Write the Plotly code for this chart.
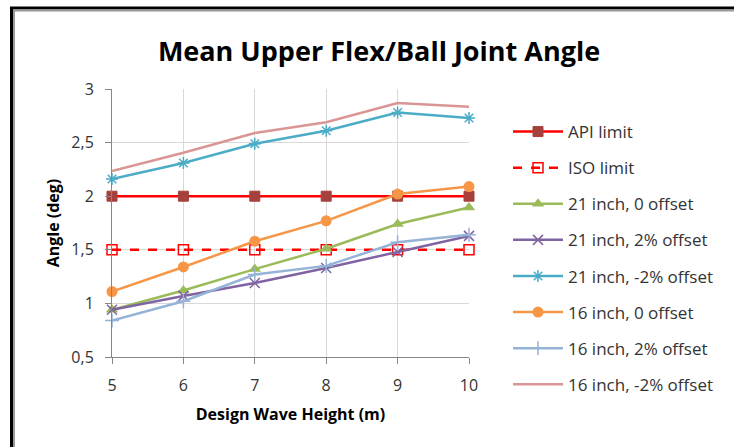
import plotly.graph_objects as go

x_vals = [5, 6, 7, 8, 9, 10]
api_limit = [2.0, 2.0, 2.0, 2.0, 2.0, 2.0]
iso_limit = [1.5, 1.5, 1.5, 1.5, 1.5, 1.5]
s21_0 = [0.94, 1.12, 1.32, 1.51, 1.74, 1.895]
s21_p2 = [0.94, 1.07, 1.19, 1.33, 1.48, 1.63]
s21_m2 = [2.16, 2.31, 2.49, 2.61, 2.78, 2.73]
s16_0 = [1.11, 1.34, 1.58, 1.77, 2.02, 2.09]
s16_p2 = [0.84, 1.02, 1.27, 1.35, 1.57, 1.64]
s16_m2 = [2.235, 2.405, 2.59, 2.69, 2.87, 2.835]
y_ticks = [0.5, 1, 1.5, 2, 2.5, 3]

W, H = 734, 447
L, R, T, B = 112, 265, 89, 90
PW, PH = W - L - R, H - T - B

def px(xp):
    return (xp - L) / PW

def py(yp):
    return (H - B - yp) / PH

FONT = "Open Sans"
fig = go.Figure()

series = [
    ("API limit", api_limit, dict(color="#FF0000", width=2.5), dict(symbol="square", size=10, color="#A5403D", line=dict(color="#A5403D", width=1))),
    ("ISO limit", iso_limit, dict(color="#FF0000", width=2.5, dash="dash"), dict(symbol="square-open", size=10, color="#FF0000", line=dict(color="#FF0000", width=1.5))),
    ("21 inch, 0 offset", s21_0, dict(color="#9BBB59", width=2.5), dict(symbol="triangle-up", size=11, color="#9BBB59")),
    ("21 inch, 2% offset", s21_p2, dict(color="#8064A2", width=2.5), dict(symbol="x-thin-open", size=10, color="#8064A2", line=dict(color="#8064A2", width=1.5))),
    ("21 inch, -2% offset", s21_m2, dict(color="#4BACC6", width=2.5), dict(symbol="asterisk-open", size=10, color="#4BACC6", line=dict(color="#4BACC6", width=1.5))),
    ("16 inch, 0 offset", s16_0, dict(color="#F79646", width=2.5), dict(symbol="circle", size=11, color="#F79646")),
    ("16 inch, 2% offset", s16_p2, dict(color="#95B3D7", width=2.5), dict(symbol="cross-thin-open", size=10, color="#95B3D7", line=dict(color="#95B3D7", width=1.5))),
    ("16 inch, -2% offset", s16_m2, dict(color="#D99694", width=2.5), None),
]

for i, (name, ys, ln, mk) in enumerate(series):
    fig.add_trace(go.Scatter(
        x=x_vals, y=ys, name=name,
        mode="lines+markers" if mk else "lines",
        line=ln, marker=mk if mk else None,
        cliponaxis=False, legendgroup=f"g{i}",
    ))

shapes = [
    dict(type="line", xref="paper", yref="paper", x0=px(11.5), x1=px(11.5), y0=py(7), y1=py(460), line=dict(color="black", width=3)),
    dict(type="line", xref="paper", yref="paper", x0=px(14), x1=px(14), y0=py(10), y1=py(460), line=dict(color="#9a9a9a", width=2)),
    dict(type="line", xref="paper", yref="paper", x0=px(10), x1=px(760), y0=py(8), y1=py(8), line=dict(color="black", width=3)),
    dict(type="line", xref="paper", yref="paper", x0=px(13), x1=px(760), y0=py(10.5), y1=py(10.5), line=dict(color="#9a9a9a", width=2)),
]

fig.update_layout(
    width=W, height=H,
    margin=dict(l=L, r=R, t=T, b=B, autoexpand=False),
    paper_bgcolor="white", plot_bgcolor="white",
    separators=",.",
    font=dict(family=FONT, size=16, color="#333333"),
    title=dict(text="<b>Mean Upper Flex/Ball Joint Angle</b>", x=379 / W, xref="container", xanchor="center",
               y=1 - 52 / H, yref="container", yanchor="middle",
               font=dict(family=FONT, size=27, color="black")),
    xaxis=dict(range=[5, 10], tickvals=x_vals, showgrid=True, gridcolor="#D9D9D9", gridwidth=1,
               showline=True, linecolor="#868686", linewidth=1, ticks="outside", ticklen=6, tickcolor="#868686",
               zeroline=False, tickfont=dict(size=16, color="#333333"), ticklabelstandoff=8,
               title=dict(text="<b>Design Wave Height (m)</b>", font=dict(size=16, color="black"), standoff=13)),
    yaxis=dict(range=[0.5, 3], tickvals=y_ticks, showgrid=True, gridcolor="#D9D9D9", gridwidth=1,
               showline=True, linecolor="#868686", linewidth=1, ticks="outside", ticklen=6, tickcolor="#868686",
               zeroline=False, tickfont=dict(size=16, color="#333333"), ticklabelstandoff=8,
               title=dict(text="<b>Angle (deg)</b>", font=dict(size=16, color="black"), standoff=7)),
    legend=dict(x=px(508), y=1 - 114 / H, yref="container", xanchor="left", yanchor="top", bgcolor="rgba(0,0,0,0)",
                font=dict(size=17, color="#333333"), tracegroupgap=11, itemwidth=50, maxheight=330),
    shapes=shapes,
    showlegend=True,
)
fig.write_html("out.html")
